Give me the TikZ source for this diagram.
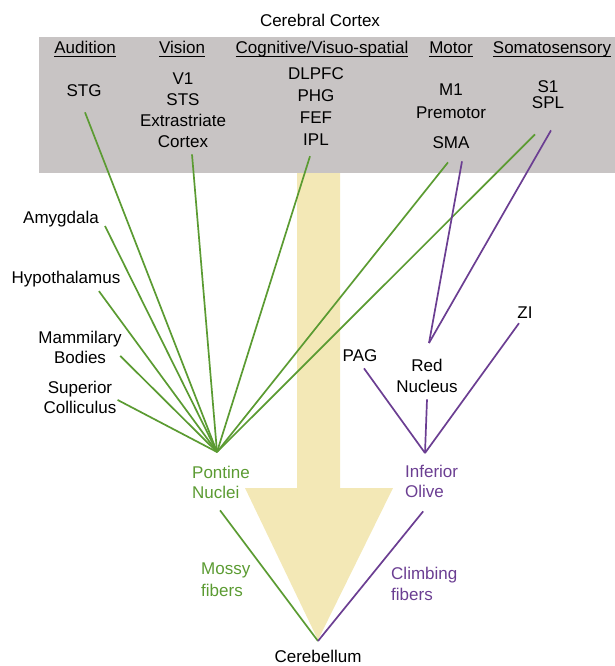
\documentclass[tikz,border=0pt]{standalone}
\usepackage{fontspec}
\setmainfont{Liberation Sans}
\usepackage{tikz}
\definecolor{cortexgray}{HTML}{C8C4C4}
\definecolor{flowyellow}{HTML}{F3E8B6}
\definecolor{mossgreen}{HTML}{5B9B32}
\definecolor{climbpurple}{HTML}{6B3E92}
\newlength{\hdw}
\newcommand{\hd}[1]{\settowidth{\hdw}{#1}\rlap{\rule[-3pt]{\hdw}{1.1pt}}#1}

\begin{document}
\begin{tikzpicture}
	[x=1pt, y=-1pt, font=\fontsize{17}{21}\selectfont,
	lbl/.style = {inner sep=2pt, anchor=base, align=center},
	mossy/.style = {draw=mossgreen, line width=1.7pt},
	climb/.style = {draw=climbpurple, line width=1.7pt}]
	\useasboundingbox (0,0) rectangle (615,666);
	\fill[cortexgray] (39,37) rectangle (615,173);
	\fill[flowyellow] (297,173) -- (340,173) -- (340,488) -- (393,488) -- (318,640) -- (245,488) -- (297,488) -- cycle;
	\node[lbl] (cc) at (320,27) {Cerebral Cortex};
	\node[lbl] (aud) at (85,54) {\hd{Audition}};
	\node[lbl] (vsn) at (182,54) {\hd{Vision}};
	\node[lbl] (cog) at (322,54) {\hd{Cognitive/Visuo-spatial}};
	\node[lbl] (mot) at (451,54) {\hd{Motor}};
	\node[lbl] (som) at (552,54) {\hd{Somatosensory}};
	\node[lbl] (stg) at (84,97) {STG};
	\node[lbl] (vstack) at (183,147) {V1\\STS\\Extrastriate\\Cortex};
	\node[lbl, font=\fontsize{17}{22.3}\selectfont] (cstack) at (316,146) {DLPFC\\PHG\\FEF\\IPL};
	\node[lbl, font=\fontsize{17}{23}\selectfont] (mstack) at (451,118) {M1\\Premotor};
	\node[lbl] (sma) at (451,148) {SMA};
	\node[lbl, font=\fontsize{17}{16}\selectfont] (sstack) at (548,109) {S1\\SPL};
	\node[lbl] (amyg) at (61,223) {Amygdala};
	\node[lbl] (hypo) at (66,283) {Hypothalamus};
	\node[lbl, font=\fontsize{17}{20}\selectfont] (mam) at (80,363) {Mammilary\\Bodies};
	\node[lbl, font=\fontsize{17}{20}\selectfont] (sup) at (80,413) {Superior\\Colliculus};
	\node[lbl] (pag) at (360,361) {PAG};
	\node[lbl] (rn) at (427,392) {Red\\Nucleus};
	\node[lbl] (zi) at (525,318) {ZI};
	\node[lbl, anchor=base west, align=left, text=mossgreen, font=\fontsize{17}{20}\selectfont] (pont) at (190,498) {Pontine\\Nuclei};
	\node[lbl, anchor=base west, align=left, text=climbpurple, font=\fontsize{17}{20}\selectfont] (olive) at (403,497) {Inferior\\Olive};
	\node[lbl, anchor=base west, align=left, text=mossgreen, font=\fontsize{17}{22}\selectfont] (mf) at (199,596) {Mossy\\fibers};
	\node[lbl, anchor=base west, align=left, text=climbpurple] (cf) at (389,600) {Climbing\\fibers};
	\node[lbl] (cbl) at (318,662) {Cerebellum};
	\coordinate (pn) at (217,452);
	\coordinate (io) at (425,453);
	\coordinate (cb) at (318,641);
	\coordinate (rnin) at (429,343);
	% cortical and subcortical inputs to the pons
	\draw[mossy] ([shift={(1,13)}]stg.south) -- (pn);
	\draw[mossy] ([shift={(9,5)}]vstack.south) -- (pn);
	\draw[mossy] ([shift={(-6,8)}]cstack.south) -- (pn);
	\draw[mossy] ([shift={(-3,12)}]sma.south) -- (pn);
	\draw[mossy] ([shift={(-13,23)}]sstack.south) -- (pn);
	\draw[mossy] ([shift={(4,3)}]amyg.base east) -- (pn);
	\draw[mossy] ([shift={(-23.6,2.4)}]hypo.south east) -- (pn);
	\draw[mossy] ([shift={(-3.5,9)}]mam.east) -- (pn);
	\draw[mossy] ([shift={(-1,3)}]sup.east) -- (pn);
	% inputs to the olive
	\draw[climb] ([shift={(11,11)}]sma.south) -- (rnin);
	\draw[climb] ([shift={(3,19)}]sstack.south) -- (rnin);
	\draw[climb] ([shift={(4,5)}]pag.south) -- (io);
	\draw[climb] ([shift={(0,5)}]rn.south) -- (io);
	\draw[climb] ([shift={(-6,3)}]zi.south) -- (io);
	% to the cerebellum
	\draw[mossy] ([shift={(-1,10)}]pont.south) -- (cb);
	\draw[climb] ([shift={(-8.5,12)}]olive.south) -- (cb);
\end{tikzpicture}
\end{document}
